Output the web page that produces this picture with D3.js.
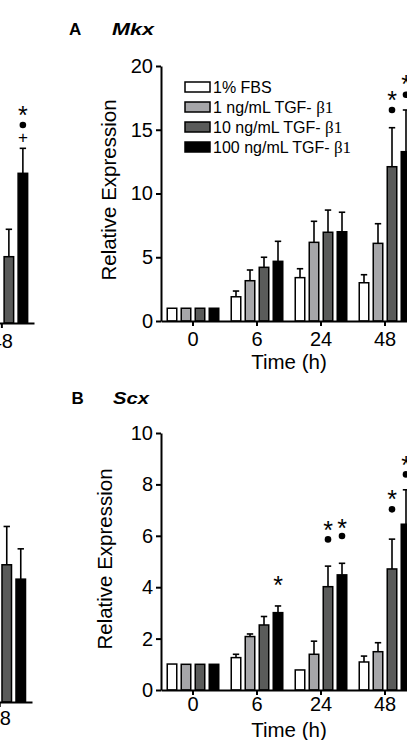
<!DOCTYPE html>
<html>
<head>
<meta charset="utf-8">
<script src="https://cdn.jsdelivr.net/npm/d3@7"></script>
<style>
  body { margin: 0; background: #fff; }
  svg { display: block; font-family: 'Liberation Sans', Arial, sans-serif; }
  text { fill: #000; }
</style>
</head>
<body>
<div id="wrapper"></div>
<script>
// ---------------------------------------------------
// DATA
// ---------------------------------------------------
const timePoints = ['0', '6', '24', '48']
const treatments = ['1% FBS', '1 ng/mL TGF- β1', '10 ng/mL TGF- β1', '100 ng/mL TGF- β1']
const treatmentFills = ['#ffffff', '#a6a6a9', '#5a5b5a', '#000000']

// panel A, Mkx: one row per treatment, one value per time point
const mkxTicks = [0, 5, 10, 15, 20]
const mkxMeans = [
  [1.0, 1.9, 3.4, 3.0],
  [1.0, 3.16, 6.17, 6.09],
  [1.0, 4.21, 6.96, 12.1],
  [1.0, 4.68, 7.0, 13.28],
]
const mkxSems = [
  [0, 0.45, 0.7, 0.63],
  [0, 0.84, 1.65, 1.54],
  [0, 0.79, 1.74, 3.06],
  [0, 1.57, 1.53, 3.27],
]
const mkxMarks = [
  { time: '48', series: 2, mark: 'dot', value: 16.55 },
  { time: '48', series: 2, mark: 'star', value: 17.75 },
  { time: '48', series: 3, mark: 'dot', value: 17.75 },
  { time: '48', series: 3, mark: 'star', value: 18.95 },
]

// panel B, Scx
const scxTicks = [0, 2, 4, 6, 8, 10]
const scxMeans = [
  [1.01, 1.26, 0.78, 1.09],
  [1.0, 2.08, 1.39, 1.49],
  [1.0, 2.53, 4.02, 4.71],
  [1.0, 3.01, 4.48, 6.45],
]
const scxSems = [
  [0, 0.13, 0, 0.23],
  [0, 0.1, 0.51, 0.35],
  [0, 0.33, 0.8, 1.16],
  [0, 0.26, 0.45, 1.34],
]
const scxMarks = [
  { time: '6', series: 3, mark: 'star', value: 4.28 },
  { time: '24', series: 2, mark: 'dot', value: 5.86 },
  { time: '24', series: 2, mark: 'star', value: 6.42 },
  { time: '24', series: 3, mark: 'dot', value: 5.99 },
  { time: '24', series: 3, mark: 'star', value: 6.51 },
  { time: '48', series: 2, mark: 'dot', value: 7.03 },
  { time: '48', series: 2, mark: 'star', value: 7.63 },
  { time: '48', series: 3, mark: 'dot', value: 8.39 },
  { time: '48', series: 3, mark: 'star', value: 8.95 },
]

// neighbouring panels, cut off at the left edge: only the 48 h bars show
const edgeTimes = ['48']
const edgeTopMeans = [[null], [null], [5.2], [11.74]]
const edgeTopSems = [[null], [null], [2.15], [1.96]]
const edgeTopMarks = [
  { time: '48', series: 3, mark: 'plus', value: 14.55 },
  { time: '48', series: 3, mark: 'dot', value: 15.53 },
  { time: '48', series: 3, mark: 'star', value: 16.7 },
]
const edgeBottomMeans = [[null], [null], [5.34], [4.78]]
const edgeBottomSems = [[null], [null], [1.49], [1.18]]

// turns the small arrays into one row per bar
function toRows(times, means, sems) {
  const rows = []
  means.forEach((values, s) => {
    values.forEach((v, i) => {
      if (v === null) return
      rows.push({ time: times[i], series: s, mean: v, sem: sems[s][i] })
    })
  })
  return rows
}

// ---------------------------------------------------
// CANVAS
// ---------------------------------------------------
const width = 407
const height = 740

const svg = d3
  .select('#wrapper')
  .append('svg')
  .attr('width', width)
  .attr('height', height)

// ---------------------------------------------------
// ONE BAR PANEL
// ---------------------------------------------------
function drawPanel(p) {
  const g = svg.append('g')

  const xScale = d3.scaleBand().domain(timePoints).range(p.xRange)
  const seriesScale = d3
    .scaleBand()
    .domain(d3.range(treatments.length))
    .range([-28, 28])
    .paddingInner(0.32)
    .paddingOuter(0.16)
  const yScale = d3.scaleLinear().domain(p.yDomain).range(p.yRange)

  const barX = (d) =>
    xScale(d.time) + xScale.bandwidth() / 2 + seriesScale(d.series)
  const barMid = (d) => barX(d) + seriesScale.bandwidth() / 2

  // error bars (upper half only)
  const errs = g
    .append('g')
    .selectAll('g')
    .data(p.rows.filter((d) => d.sem > 0))
    .join('g')
    .attr('stroke', '#000')
    .attr('stroke-width', 1.6)
  errs
    .append('line')
    .attr('x1', barMid)
    .attr('x2', barMid)
    .attr('y1', (d) => yScale(d.mean))
    .attr('y2', (d) => yScale(d.mean + d.sem))
  errs
    .append('line')
    .attr('x1', (d) => barMid(d) - 3.2)
    .attr('x2', (d) => barMid(d) + 3.2)
    .attr('y1', (d) => yScale(d.mean + d.sem))
    .attr('y2', (d) => yScale(d.mean + d.sem))

  // bars
  g.append('g')
    .selectAll('rect')
    .data(p.rows)
    .join('rect')
    .attr('x', barX)
    .attr('width', seriesScale.bandwidth())
    .attr('y', (d) => yScale(d.mean))
    .attr('height', (d) => yScale(0) - yScale(d.mean))
    .attr('fill', (d) => treatmentFills[d.series])
    .attr('stroke', '#000')
    .attr('stroke-width', 1.5)

  // significance marks
  const marks = g.append('g')
  const markX = (d) => barMid({ time: d.time, series: d.series })
  marks
    .selectAll('circle')
    .data(p.marks.filter((d) => d.mark === 'dot'))
    .join('circle')
    .attr('cx', markX)
    .attr('cy', (d) => yScale(d.value))
    .attr('r', 3.3)
    .attr('fill', '#000')
  marks
    .selectAll('text')
    .data(p.marks.filter((d) => d.mark !== 'dot'))
    .join('text')
    .attr('x', markX)
    .attr('y', (d) => yScale(d.value) + (d.mark === 'star' ? 14 : 5.5))
    .attr('text-anchor', 'middle')
    .attr('font-size', (d) => (d.mark === 'star' ? 25 : 17))
    .attr('fill', '#000')
    .text((d) => (d.mark === 'star' ? '*' : '+'))

  // x axis
  const xAxisGenerator = d3
    .axisBottom(xScale)
    .tickSize(5)
    .tickSizeOuter(0)
    .tickPadding(p.xTickPad)
  if (p.xTicks) xAxisGenerator.tickValues(p.xTicks)
  const xAxis = g
    .append('g')
    .attr('transform', `translate(0,${p.yRange[0]})`)
    .call(xAxisGenerator)
  styleAxis(xAxis)

  if (p.showYAxis) {
    const yAxis = g
      .append('g')
      .attr('transform', `translate(${p.xRange[0]},0)`)
      .call(
        d3
          .axisLeft(yScale)
          .tickValues(p.yTicks)
          .tickSize(5)
          .tickSizeOuter(0)
          .tickPadding(3)
      )
    styleAxis(yAxis)

    g.append('text')
      .attr('transform', 'rotate(-90)')
      .attr('x', -p.yLabelMid)
      .attr('y', p.yLabelX)
      .attr('text-anchor', 'middle')
      .attr('font-size', 20.5)
      .text('Relative Expression')

    g.append('text')
      .attr('x', (p.xRange[0] + p.xRange[1]) / 2)
      .attr('y', p.yRange[0] + p.xLabelGap)
      .attr('text-anchor', 'middle')
      .attr('font-size', 20.5)
      .text('Time (h)')

    g.append('text')
      .attr('x', p.letterX)
      .attr('y', p.titleY)
      .attr('font-size', 17)
      .attr('font-weight', 'bold')
      .text(p.letter)

    g.append('text')
      .attr('x', p.geneX)
      .attr('y', p.titleY)
      .attr('font-size', 17)
      .attr('font-weight', 'bold')
      .attr('font-style', 'italic')
      .attr('textLength', p.geneWidth)
      .attr('lengthAdjust', 'spacingAndGlyphs')
      .text(p.gene)
  }
  return g
}

function styleAxis(axis) {
  axis.attr('font-family', null).attr('font-size', 20)
  axis.selectAll('path, line').attr('stroke', '#000').attr('stroke-width', 2)
  axis.selectAll('text').attr('fill', '#000')
}

// ---------------------------------------------------
// DRAW PANELS
// ---------------------------------------------------
drawPanel({
  rows: toRows(edgeTimes, edgeTopMeans, edgeTopSems),
  marks: edgeTopMarks,
  xRange: [-223, 34],
  xTicks: edgeTimes,
  yDomain: [0, 20],
  yRange: [323, 68],
  xTickPad: 6,
  showYAxis: false,
})

drawPanel({
  rows: toRows(edgeTimes, edgeBottomMeans, edgeBottomSems),
  marks: [],
  xRange: [-226, 32],
  xTicks: edgeTimes,
  yDomain: [0, 10],
  yRange: [702, 445],
  xTickPad: 4,
  showYAxis: false,
})

const panelA = drawPanel({
  rows: toRows(timePoints, mkxMeans, mkxSems),
  marks: mkxMarks,
  xRange: [161, 417],
  yDomain: [0, 20],
  yRange: [321, 66],
  yTicks: mkxTicks,
  xTickPad: 6,
  xLabelGap: 48,
  yLabelX: 116,
  yLabelMid: 190,
  showYAxis: true,
  letter: 'A',
  letterX: 69,
  gene: 'Mkx',
  geneX: 112,
  geneWidth: 42,
  titleY: 34.5,
})

drawPanel({
  rows: toRows(timePoints, scxMeans, scxSems),
  marks: scxMarks,
  xRange: [161, 417],
  yDomain: [0, 10],
  yRange: [690, 433],
  yTicks: scxTicks,
  xTickPad: 2,
  xLabelGap: 47,
  yLabelX: 112,
  yLabelMid: 559,
  showYAxis: true,
  letter: 'B',
  letterX: 71.5,
  gene: 'Scx',
  geneX: 113,
  geneWidth: 36,
  titleY: 403.5,
})

// ---------------------------------------------------
// LEGEND (panel A)
// ---------------------------------------------------
const legend = panelA
  .append('g')
  .attr('transform', 'translate(185,82)')
  .selectAll('g')
  .data(treatments)
  .join('g')
  .attr('transform', (d, i) => `translate(0,${i * 20})`)

legend
  .append('rect')
  .attr('width', 25)
  .attr('height', 10)
  .attr('fill', (d, i) => treatmentFills[i])
  .attr('stroke', '#000')
  .attr('stroke-width', 1.5)

legend
  .append('text')
  .attr('x', 28)
  .attr('y', 11.3)
  .attr('font-size', 16)
  .each(function (d) {
    const parts = d.split('β')
    const t = d3.select(this)
    t.append('tspan').text(parts[0])
    if (parts.length > 1) {
      t.append('tspan')
        .attr('font-family', "'Liberation Serif', serif")
        .attr('font-size', 17)
        .text('β' + parts[1])
    }
  })
</script>
</body>
</html>
